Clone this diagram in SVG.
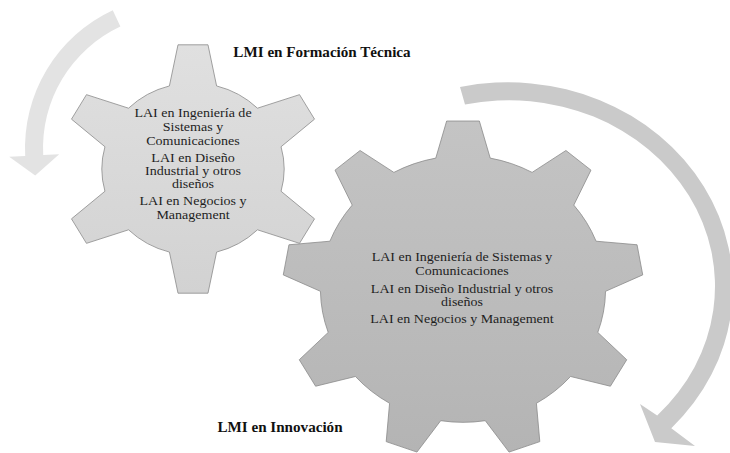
<svg xmlns="http://www.w3.org/2000/svg" width="730" height="453" viewBox="0 0 730 453">
  <defs>
    <linearGradient id="gSmall" x1="0" y1="0" x2="0" y2="1">
      <stop offset="0" stop-color="#e0e0e0"/>
      <stop offset="1" stop-color="#d2d2d2"/>
    </linearGradient>
    <linearGradient id="gBig" x1="0" y1="0" x2="0" y2="1">
      <stop offset="0" stop-color="#c4c4c4"/>
      <stop offset="1" stop-color="#b4b4b4"/>
    </linearGradient>
  </defs>
  <style>
    .gear { stroke: #8a8a8a; stroke-width: 0.8; stroke-linejoin: round; }
    .small { fill: url(#gSmall); }
    .big { fill: url(#gBig); }
    .arrowL { fill: #e3e3e3; }
    .arrowR { fill: #cacaca; }
    .body { font-family: "Liberation Serif", "Times New Roman", serif; font-size: 13px; fill: #1e1e1e; text-anchor: middle; }
    .bodyB { font-family: "Liberation Serif", "Times New Roman", serif; font-size: 12.5px; fill: #1e1e1e; text-anchor: middle; }
    .title { font-family: "Liberation Serif", "Times New Roman", serif; font-size: 14px; font-weight: bold; fill: #111; text-anchor: middle; }
  </style>
  <rect width="730" height="453" fill="#ffffff"/>

  <g id="connectors">
    <path id="arrow-left" class="arrowL" d="M112.76,10.24 A152,152 0 0 0 25.2,155.95 L9.2,156.8 L35.2,175.5 L59.2,154.2 L43.2,155 A134,134 0 0 1 120.37,26.56 Z"/>
    <path id="arrow-right" class="arrowR" d="M460,87 A225,205 0 0 1 671.3,428.2 L695,446 L655,442 L640,404 L657.2,415.4 A206,186 0 0 0 465,104.5 Z"/>
  </g>

  <g id="gear-formacion">
    <path class="gear small" vector-effect="non-scaling-stroke" transform="translate(193,169) scale(1.06,1)" d="M-22.26,-83.07 L-14.15,-124.2 L14.15,-124.2 L22.26,-83.07 A86,86 0 0 1 60.81,-60.81 L100.49,-74.35 L114.64,-49.84 L83.07,-22.26 A86,86 0 0 1 83.07,22.26 L114.64,49.84 L100.49,74.35 L60.81,60.81 A86,86 0 0 1 22.26,83.07 L14.15,124.2 L-14.15,124.2 L-22.26,83.07 A86,86 0 0 1 -60.81,60.81 L-100.49,74.35 L-114.64,49.84 L-83.07,22.26 A86,86 0 0 1 -83.07,-22.26 L-114.64,-49.84 L-100.49,-74.35 L-60.81,-60.81 A86,86 0 0 1 -22.26,-83.07 Z"/>
    <g transform="translate(193,0) scale(1.08,1)">
      <text class="body" x="0" y="117">LAI en Ingeniería de</text>
      <text class="body" x="0" y="131">Sistemas y</text>
      <text class="body" x="0" y="145">Comunicaciones</text>
      <text class="body" x="0" y="162">LAI en Diseño</text>
      <text class="body" x="0" y="175">Industrial y otros</text>
      <text class="body" x="0" y="188">diseños</text>
      <text class="body" x="0" y="205">LAI en Negocios y</text>
      <text class="body" x="0" y="219">Management</text>
    </g>
    <g transform="translate(322,0) scale(1.08,1)">
      <text class="title" x="0" y="57">LMI en Formación Técnica</text>
    </g>
  </g>

  <g id="gear-innovacion">
    <path class="gear big" vector-effect="non-scaling-stroke" transform="translate(463,289) scale(1.08,1.01)" d="M-25.19,-129.58 L-15.14,-166.32 L15.14,-166.32 L25.19,-129.58 A132,132 0 0 1 64,-115.45 L95.31,-137.12 L118.5,-117.67 L102.58,-83.07 A132,132 0 0 1 123.24,-47.31 L161.16,-43.79 L166.42,-13.98 L131.98,2.3 A132,132 0 0 1 124.81,42.98 L151.6,70.06 L136.46,96.26 L99.62,86.61 A132,132 0 0 1 67.98,113.15 L71.11,151.1 L42.65,161.46 L20.65,130.38 A132,132 0 0 1 -20.65,130.38 L-42.65,161.46 L-71.11,151.1 L-67.98,113.15 A132,132 0 0 1 -99.62,86.61 L-136.46,96.26 L-151.6,70.06 L-124.81,42.98 A132,132 0 0 1 -131.98,2.3 L-166.42,-13.98 L-161.16,-43.79 L-123.24,-47.31 A132,132 0 0 1 -102.58,-83.07 L-118.5,-117.67 L-95.31,-137.12 L-64,-115.45 A132,132 0 0 1 -25.19,-129.58 Z"/>
    <g transform="translate(462,0) scale(1.12,1)">
      <text class="bodyB" x="0" y="261">LAI en Ingeniería de Sistemas y</text>
      <text class="bodyB" x="0" y="275">Comunicaciones</text>
      <text class="bodyB" x="0" y="293">LAI en Diseño Industrial y otros</text>
      <text class="bodyB" x="0" y="306">diseños</text>
      <text class="bodyB" x="0" y="323">LAI en Negocios y Management</text>
    </g>
    <g transform="translate(280,0) scale(1.08,1)">
      <text class="title" x="0" y="432">LMI en Innovación</text>
    </g>
  </g>
</svg>
